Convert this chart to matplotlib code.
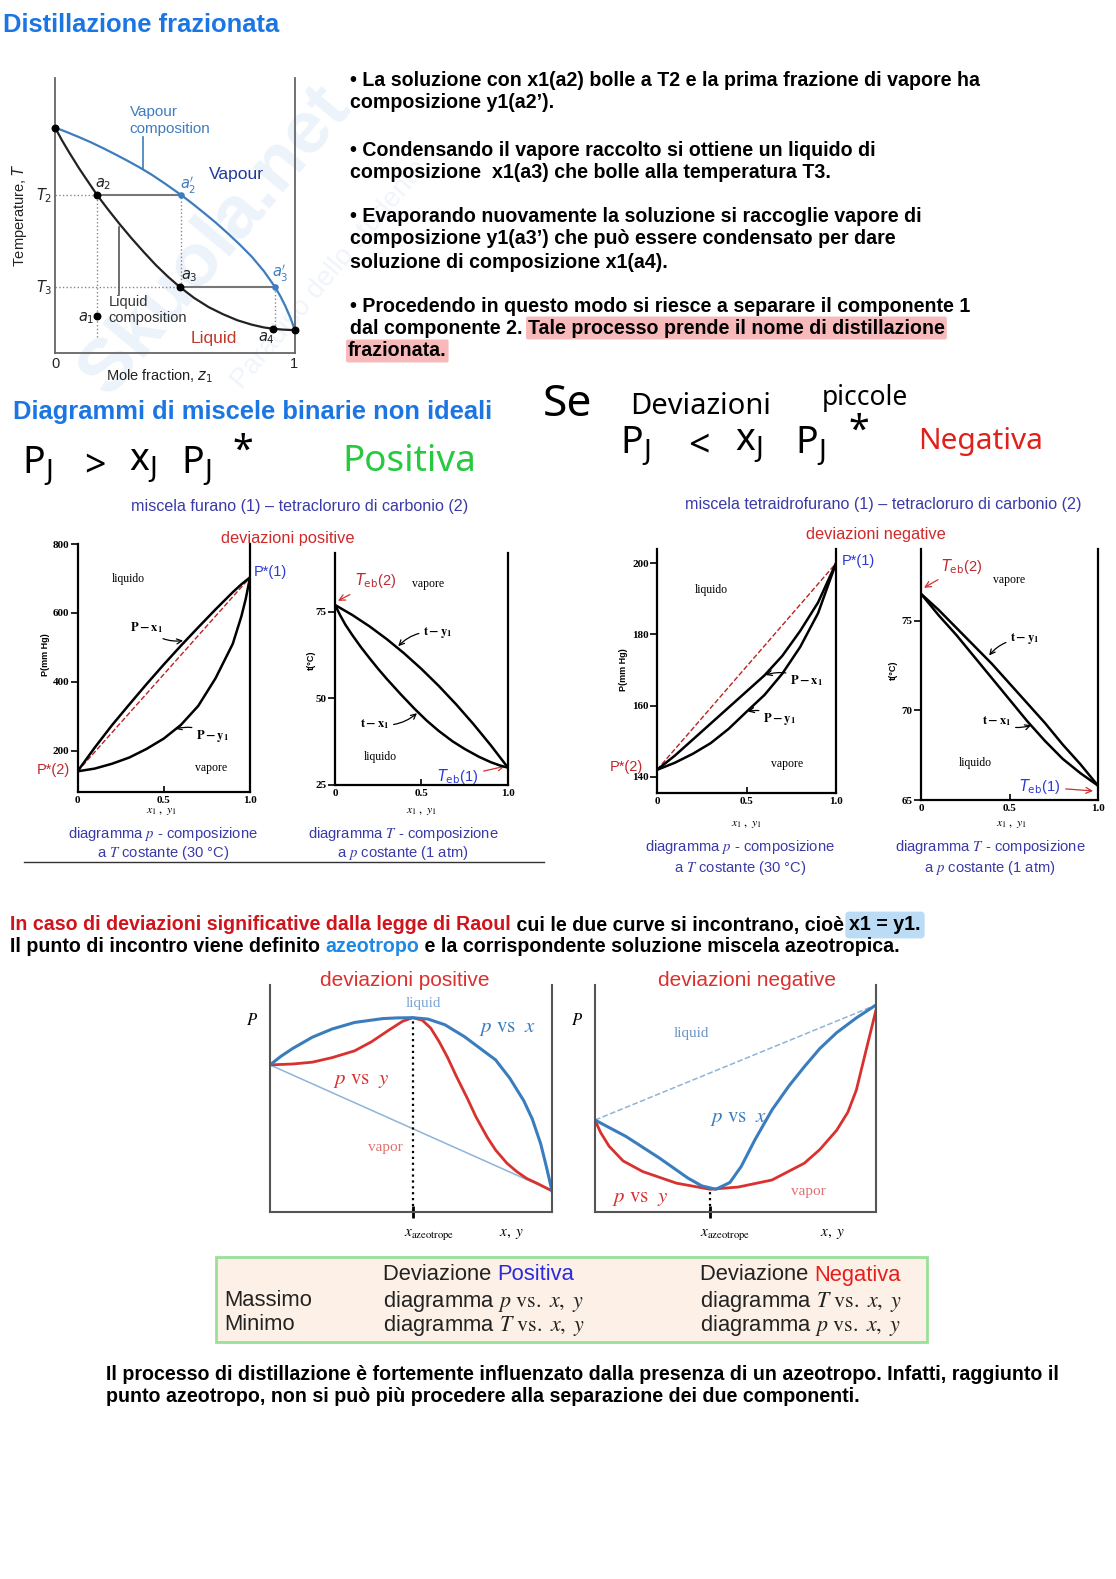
import matplotlib.pyplot as plt
from matplotlib.patches import Rectangle

W, H = 1116, 1579
SANS = 'Liberation Sans'
SERIF = 'Liberation Serif'
HAND = 'Noto Sans'

# ---------------- data ----------------
# distillazione frazionata: composition z1 vs temperature (0..1 scale)
liq_z = [0, 0.03, 0.06, 0.1, 0.14, 0.175, 0.22, 0.27, 0.32, 0.37, 0.42, 0.47, 0.52,
         0.58, 0.64, 0.7, 0.76, 0.82, 0.87, 0.91, 0.95, 1.0]
liq_T = [0.82, 0.772, 0.728, 0.672, 0.62, 0.575, 0.523, 0.468, 0.416, 0.367, 0.32, 0.278, 0.24,
         0.2, 0.167, 0.141, 0.119, 0.103, 0.093, 0.088, 0.085, 0.083]
vap_z = [0, 0.05, 0.1, 0.15, 0.2, 0.25, 0.3, 0.35, 0.4, 0.46, 0.525, 0.57, 0.62, 0.67,
         0.72, 0.77, 0.82, 0.87, 0.917, 0.94, 0.96, 0.98, 1.0]
vap_T = [0.82, 0.803, 0.785, 0.766, 0.745, 0.723, 0.70, 0.676, 0.65, 0.615, 0.575, 0.545, 0.51, 0.474,
         0.435, 0.394, 0.35, 0.298, 0.24, 0.205, 0.17, 0.13, 0.083]
step_z = [0.175, 0.525, 0.52, 0.917, 0.91]      # a2, a2', a3, a3', a4
T2, T3 = 0.575, 0.24
a1_T = 0.135

# furano (1) - CCl4 (2): deviazioni positive
fur_x = [0, 0.1, 0.2, 0.3, 0.4, 0.5, 0.6, 0.7, 0.8, 0.9, 0.95, 0.975, 1.0]
fur_Px = [140, 209, 274, 334, 393, 450, 505, 558, 610, 660, 683, 693, 703]
fur_Py = [140, 148, 162, 180, 205, 235, 275, 330, 410, 510, 590, 640, 703]
fur_tx = [0, 0.03, 0.06, 0.1, 0.15, 0.2, 0.25, 0.3, 0.38, 0.46, 0.53, 0.6, 0.68, 0.75, 0.83, 0.9, 0.95, 1.0]
fur_t_liq = [77, 74, 71.3, 68.3, 64.8, 61.6, 58.5, 55.6, 51.2, 47, 43.6, 40.6, 37.6, 35.4, 33.2, 31.6, 30.7, 30]
fur_ty = [0, 0.1, 0.2, 0.3, 0.4, 0.5, 0.6, 0.7, 0.8, 0.9, 1.0]
fur_t_vap = [77, 74.1, 70.8, 67.1, 63, 58.5, 53.6, 48.3, 42.6, 36.5, 30]

# tetraidrofurano (1) - CCl4 (2): deviazioni negative
thf_x = [0, 0.1, 0.2, 0.3, 0.4, 0.5, 0.6, 0.7, 0.8, 0.9, 1.0]
thf_Px = [142, 146, 150.5, 155, 159.5, 164, 168.5, 174, 181, 189, 200]
thf_Py = [142, 144, 146.5, 149.5, 153.5, 158.3, 163, 169, 176.5, 186, 200]
thf_t_liq = [76.5, 75.3, 74.2, 73.0, 71.8, 70.6, 69.4, 68.3, 67.3, 66.5, 65.8]
thf_t_vap = [76.5, 75.6, 74.6, 73.6, 72.6, 71.5, 70.4, 69.3, 68.1, 67.0, 65.8]

# azeotropi (schematic, p on a 0..1 scale)
azp_xl = [0, 0.04, 0.08, 0.15, 0.22, 0.3, 0.4, 0.45, 0.506, 0.56, 0.62, 0.69, 0.8, 0.85,
          0.9, 0.93, 0.96, 0.98, 1.0]
azp_pl = [0.648, 0.687, 0.72, 0.77, 0.806, 0.835, 0.852, 0.855, 0.856, 0.85, 0.825, 0.772, 0.67, 0.59,
          0.49, 0.41, 0.30, 0.20, 0.093]
azp_xv = [0, 0.08, 0.15, 0.22, 0.3, 0.36, 0.42, 0.47, 0.506, 0.54, 0.57, 0.6, 0.63, 0.66,
          0.7, 0.73, 0.77, 0.8, 0.84, 0.875, 0.91, 0.946, 1.0]
azp_pv = [0.648, 0.652, 0.66, 0.68, 0.71, 0.75, 0.80, 0.84, 0.856, 0.845, 0.81, 0.75, 0.68, 0.60,
          0.50, 0.42, 0.33, 0.273, 0.215, 0.178, 0.148, 0.127, 0.093]
azp_xaz = 0.506
azn_xl = [0, 0.11, 0.23, 0.33, 0.38, 0.43, 0.48, 0.52, 0.57, 0.63, 0.69, 0.745, 0.8, 0.86, 0.93, 1.0]
azn_pl = [0.405, 0.333, 0.237, 0.15, 0.115, 0.10, 0.13, 0.20, 0.32, 0.45, 0.555, 0.64, 0.72, 0.79, 0.855, 0.912]
azn_xv = [0, 0.02, 0.05, 0.1, 0.17, 0.29, 0.41, 0.51, 0.63, 0.745, 0.8, 0.86, 0.9, 0.93, 0.965, 1.0]
azn_pv = [0.405, 0.35, 0.29, 0.225, 0.178, 0.127, 0.10, 0.11, 0.141, 0.215, 0.275, 0.36, 0.44, 0.537, 0.714, 0.89]
azn_xaz = 0.41

# tabella
tab_rows = ['Massimo', 'Minimo']
tab_pos = [r'diagramma $p\ \mathrm{vs.}\ x,\ y$', r'diagramma $T\ \mathrm{vs.}\ x,\ y$']
tab_neg = [r'diagramma $T\ \mathrm{vs.}\ x,\ y$', r'diagramma $p\ \mathrm{vs.}\ x,\ y$']

bullets = [
    ['• La soluzione con x1(a2) bolle a T2 e la prima frazione di vapore ha',
     'composizione y1(a2’).'],
    ['• Condensando il vapore raccolto si ottiene un liquido di',
     'composizione  x1(a3) che bolle alla temperatura T3.'],
    ['• Evaporando nuovamente la soluzione si raccoglie vapore di',
     'composizione y1(a3’) che può essere condensato per dare',
     'soluzione di composizione x1(a4).'],
]

# ---------------- figure ----------------
fig = plt.figure(figsize=(W / 100, H / 100), dpi=100)
bg = fig.add_axes([0, 0, 1, 1])
bg.set_xlim(0, W)
bg.set_ylim(H, 0)
bg.axis('off')


def box(x0, y0, x1, y1):
    return [x0 / W, 1 - y1 / H, (x1 - x0) / W, (y1 - y0) / H]


def txt(x, y, s, size, color='black', family=SANS, weight='normal', ha='left', **kw):
    return bg.text(x, y, s, fontsize=size, color=color, family=family,
                   weight=weight, ha=ha, va='center', **kw)


def chain(x, y, parts, size, family=SANS, weight='bold', **kw):
    prev = None
    for part in parts:
        s, c = part[0], part[1]
        if prev is None:
            prev = bg.text(x, y, s, color=c, fontsize=size, family=family,
                           weight=weight, ha='left', va='center', **kw)
        else:
            prev = bg.annotate(s, xy=(1, 0), xycoords=prev, color=c, fontsize=size,
                               family=family, weight=weight, ha='left', va='bottom', **kw)
        if len(part) > 2:
            prev.set_bbox(part[2])
    return prev


# faint watermark
txt(215, 240, 'Skuola.net', 54, '#edf3fa', weight='bold', ha='center', rotation=50, zorder=-5)
txt(330, 275, 'Paradiso dello studente', 20, '#f0f5fb', ha='center', rotation=50, zorder=-5)

BODY = 14.1
# ---- titolo + diagramma distillazione ----
txt(3, 25, 'Distillazione frazionata', 18.4, '#1b76e4', weight='bold')

ax = fig.add_axes(box(55, 78, 295, 353))
ax.set_facecolor('none')
ax.set_xlim(0, 1)
ax.set_ylim(0, 1)
ax.set_xticks([])
ax.set_yticks([])
ax.spines['top'].set_visible(False)
for s in ('left', 'right', 'bottom'):
    ax.spines[s].set_color('#666')
    ax.spines[s].set_linewidth(1.3)
a2, a2p, a3, a3p, a4 = step_z
a4_T = liq_T[liq_z.index(a4)]
ax.plot([0, a2], [T2, T2], ls=':', color='#888', lw=1)
ax.plot([0, a3], [T3, T3], ls=':', color='#888', lw=1)
ax.plot([a2, a2], [0.06, T2], ls=':', color='#888', lw=1)
ax.plot([a2p, a2p], [T3, T2], ls=':', color='#888', lw=1)
ax.plot([a3p, a3p], [a4_T, T3], ls=':', color='#888', lw=1)
ax.plot([a2, a2p], [T2, T2], color='#777', lw=1.5)
ax.plot([a3, a3p], [T3, T3], color='#777', lw=1.5)
ax.plot(liq_z, liq_T, color='#222', lw=1.6)
ax.plot(vap_z, vap_T, color='#3d7dbf', lw=1.6)
ax.plot([0.367, 0.367], [0.67, 0.785], color='#3d7dbf', lw=1.2)
ax.plot([0.267, 0.267], [0.46, 0.21], color='#555', lw=1.2)
ax.scatter([liq_z[0], a2, a3, a4, liq_z[-1], a2], [liq_T[0], T2, T3, a4_T, liq_T[-1], a1_T],
           color='black', s=22, zorder=5, clip_on=False)
ax.scatter([a2p, a3p], [T2, T3], color='#3d7dbf', s=14, zorder=5)

txt(130, 112, 'Vapour', 11, '#3e7cc0')
txt(129, 129, 'composition', 11, '#3e7cc0')
txt(209, 175, 'Vapour', 12.5, '#1f3a9c')
txt(109, 302, 'Liquid', 10.5, '#333')
txt(108, 318, 'composition', 10.5, '#333')
txt(191, 338, 'Liquid', 12.5, '#c0392b')
txt(95, 184, r'$a_2$', 10.5, '#222')
txt(180, 185, r"$a_2'$", 10.5, '#3e7cc0')
txt(181, 276, r'$a_3$', 10.5, '#222')
txt(272, 273, r"$a_3'$", 10.5, '#3e7cc0')
txt(258, 338, r'$a_4$', 10.5, '#222')
txt(78, 318, r'$a_1$', 10.5, '#222')
txt(44, 196, r'$T_2$', 10.5, '#222', ha='center')
txt(44, 288, r'$T_3$', 10.5, '#222', ha='center')
txt(55, 364, '0', 10.5, '#222', ha='center')
txt(294, 364, '1', 10.5, '#222', ha='center')
txt(160, 376, r'Mole fraction, $z_1$', 10.5, '#222', ha='center')
txt(20, 215, r'Temperature, $T$', 10.5, '#222', ha='center', rotation=90)

# ---- testo puntato ----
ys = [81, 103, 150, 172, 217, 239, 262]
lines = [l for b in bullets for l in b]
for y, l in zip(ys, lines):
    txt(350, y, l, BODY, weight='bold')
txt(350, 306, '• Procedendo in questo modo si riesce a separare il componente 1', BODY, weight='bold')
hl = dict(boxstyle='round,pad=0.1', fc='#f7b9b9', ec='none')
chain(350, 328, [('dal componente 2. ', 'black'),
                 ('Tale processo prende il nome di distillazione', 'black', hl)], BODY)
chain(348, 351, [('frazionata.', 'black', hl)], BODY)

# ---- miscele non ideali ----
txt(13, 412, 'Diagrammi di miscele binarie non ideali', 18.4, '#1b76e4', weight='bold')
PJ = r'P$_\mathsf{J}$'
for s, x in [(PJ, 22), ('>', 84), (r'x$_\mathsf{J}$', 129), (PJ, 181)]:
    txt(x, 466, s, 27, family=HAND)
txt(232, 452, '*', 27, family=HAND)
txt(342, 462, 'Positiva', 26.5, '#27c93f', family=HAND)
txt(543, 405, 'Se', 32, family=HAND)
txt(630, 407, 'Deviazioni', 21, family=HAND)
txt(822, 398, 'piccole', 19, family=HAND)
for s, x in [(PJ, 620), ('<', 688), (r'x$_\mathsf{J}$', 735), (PJ, 795)]:
    txt(x, 446, s, 27, family=HAND)
txt(848, 432, '*', 27, family=HAND)
txt(918, 441, 'Negativa', 21.5, '#e0201b', family=HAND)

CAP = '#3a3aa8'
txt(300, 506, 'miscela furano (1) – tetracloruro di carbonio (2)', 11.6, CAP, ha='center')
txt(288, 538, 'deviazioni positive', 11.8, '#d02a2a', ha='center')
txt(883, 504, 'miscela tetraidrofurano (1) – tetracloruro di carbonio (2)', 11.6, CAP, ha='center')
txt(876, 535, 'deviazioni negative', 11.8, '#d02a2a', ha='center')


def panel(rect, ylim, yticks):
    a = fig.add_axes(box(*rect))
    a.set_facecolor('none')
    a.set_xlim(0, 1)
    a.set_ylim(*ylim)
    a.spines['top'].set_visible(False)
    for s in ('left', 'right', 'bottom'):
        a.spines[s].set_linewidth(1.6)
    a.set_xticks([0, 0.5, 1.0], ['0', '0.5', '1.0'])
    a.set_yticks(yticks, [str(v) for v in yticks])
    a.tick_params(axis='x', direction='in', length=4, width=1.2, labelsize=8, pad=3)
    a.tick_params(axis='y', direction='out', length=5, width=1.2, labelsize=8, pad=1)
    for lab in a.get_xticklabels() + a.get_yticklabels():
        lab.set_fontfamily(SERIF)
        lab.set_fontweight('bold')
    return a


def pointer(a, s, xt, yt, xy, ha='left'):
    bg.annotate(s, xy=xy, xycoords=a.transData, xytext=(xt, yt), textcoords='data',
                fontsize=9, ha=ha, va='center', math_fontfamily='stix',
                arrowprops=dict(arrowstyle='->', lw=0.9, color='black',
                                shrinkA=1, shrinkB=1, connectionstyle='arc3,rad=0.25'))


def red_arrow(a, s, xt, yt, xy, color):
    bg.annotate(s, xy=xy, xycoords=a.transData, xytext=(xt, yt), textcoords='data',
                fontsize=10.5, color=color, ha='left', va='center', family=SANS,
                arrowprops=dict(arrowstyle='->', lw=0.9, color='#d03030', shrinkA=2, shrinkB=1))


CAPS = 10.6
# positive p
ap = panel((77.5, 544, 250, 792), (80, 800), [200, 400, 600, 800])
ap.plot([fur_x[0], fur_x[-1]], [fur_Px[0], fur_Px[-1]], ls='--', color='#b22', lw=1)
ap.plot(fur_x, fur_Px, color='black', lw=1.8)
ap.plot(fur_x, fur_Py, color='black', lw=1.8)
txt(128, 579, 'liquido', 8.5, family=SERIF, ha='center')
txt(211, 768, 'vapore', 8.5, family=SERIF, ha='center')
pointer(ap, r'$\mathbf{P - x_1}$', 130, 628, (0.62, 520))
pointer(ap, r'$\mathbf{P - y_1}$', 196, 736, (0.56, 262))
txt(254, 572, 'P*(1)', 10.5, '#2b3bd6')
txt(37, 770, 'P*(2)', 10.5, '#c0282d')
txt(45, 655, 'P(mm Hg)', 6.5, family=SANS, weight='bold', ha='center', rotation=90)
txt(161, 811, r'$x_1\ ,\ y_1$', 8.5, math_fontfamily='stix', ha='center')
txt(163, 834, r'diagramma $p$ - composizione', CAPS, CAP, ha='center', math_fontfamily='stix')
txt(163, 853, r'a $T$ costante (30 °C)', CAPS, CAP, ha='center', math_fontfamily='stix')

# positive T
at = panel((335, 553, 508, 785), (25, 92), [25, 50, 75])
at.plot(fur_tx, fur_t_liq, color='black', lw=1.8)
at.plot(fur_ty, fur_t_vap, color='black', lw=1.8)
txt(428, 584, 'vapore', 8.5, family=SERIF, ha='center')
txt(380, 757, 'liquido', 8.5, family=SERIF, ha='center')
pointer(at, r'$\mathbf{t - y_1}$', 423, 632, (0.36, 64.8))
pointer(at, r'$\mathbf{t - x_1}$', 360, 724, (0.48, 46))
red_arrow(at, r'$T_{\rm eb}$(2)', 355, 581, (0.01, 78), '#c0282d')
red_arrow(at, r'$T_{\rm eb}$(1)', 437, 777, (0.99, 30.5), '#2b3bd6')
txt(311, 660, 't(°C)', 6.5, family=SANS, weight='bold', ha='center', rotation=90)
txt(421, 811, r'$x_1\ ,\ y_1$', 8.5, math_fontfamily='stix', ha='center')
txt(403, 834, r'diagramma $T$ - composizione', CAPS, CAP, ha='center', math_fontfamily='stix')
txt(403, 853, r'a $p$ costante (1 atm)', CAPS, CAP, ha='center', math_fontfamily='stix')
bg.axhline(862, xmin=24 / W, xmax=544 / W, color='#333', lw=1)

# negative p
an = panel((657, 549, 836, 793), (135.5, 204), [140, 160, 180, 200])
an.plot([thf_x[0], thf_x[-1]], [thf_Px[0], thf_Px[-1]], ls='--', color='#b22', lw=1)
an.plot(thf_x, thf_Px, color='black', lw=1.8)
an.plot(thf_x, thf_Py, color='black', lw=1.8)
txt(711, 590, 'liquido', 8.5, family=SERIF, ha='center')
txt(787, 764, 'vapore', 8.5, family=SERIF, ha='center')
pointer(an, r'$\mathbf{P - x_1}$', 790, 681, (0.6, 168.5))
pointer(an, r'$\mathbf{P - y_1}$', 763, 719, (0.5, 158.3))
txt(842, 561, 'P*(1)', 10.5, '#2b3bd6')
txt(610, 767, 'P*(2)', 10.5, '#c0282d')
txt(624, 670, 'P(mm Hg)', 6.5, family=SANS, weight='bold', ha='center', rotation=90)
txt(746, 824, r'$x_1\ ,\ y_1$', 8.5, math_fontfamily='stix', ha='center')
txt(740, 847, r'diagramma $p$ - composizione', CAPS, CAP, ha='center', math_fontfamily='stix')
txt(740, 868, r'a $T$ costante (30 °C)', CAPS, CAP, ha='center', math_fontfamily='stix')

# negative T
ant = panel((921, 549, 1098, 800), (65, 79), [65, 70, 75])
ant.plot(thf_x, thf_t_liq, color='black', lw=1.8)
ant.plot(thf_x, thf_t_vap, color='black', lw=1.8)
txt(1009, 580, 'vapore', 8.5, family=SERIF, ha='center')
txt(975, 763, 'liquido', 8.5, family=SERIF, ha='center')
pointer(ant, r'$\mathbf{t - y_1}$', 1010, 639, (0.38, 73.0))
pointer(ant, r'$\mathbf{t - x_1}$', 982, 721, (0.63, 69.2))
red_arrow(ant, r'$T_{\rm eb}$(2)', 941, 566, (0.01, 76.8), '#c0282d')
red_arrow(ant, r'$T_{\rm eb}$(1)', 1019, 787, (0.98, 65.5), '#2b3bd6')
txt(893, 670, 't(°C)', 6.5, family=SANS, weight='bold', ha='center', rotation=90)
txt(1011, 824, r'$x_1\ ,\ y_1$', 8.5, math_fontfamily='stix', ha='center')
txt(990, 847, r'diagramma $T$ - composizione', CAPS, CAP, ha='center', math_fontfamily='stix')
txt(990, 868, r'a $p$ costante (1 atm)', CAPS, CAP, ha='center', math_fontfamily='stix')

# ---- azeotropo ----
chain(10, 925, [('In caso di deviazioni significative dalla legge di Raoul', '#d0141c'),
                (' cui le due curve si incontrano, cioè ', 'black'),
                ('x1 = y1.', 'black', dict(boxstyle='round,pad=0.2', fc='#bcdcf5', ec='none'))], BODY)
chain(10, 947, [('Il punto di incontro viene definito ', 'black'),
                ('azeotropo', '#1e88e5'),
                (' e la corrispondente soluzione miscela azeotropica.', 'black')], BODY)

BLUE_AZ = '#3a7dbf'
RED_AZ = '#d9312e'


def azeo(rect, xl, pl, xv, pv, xaz, paz, dashed):
    a = fig.add_axes(box(*rect))
    a.set_facecolor('none')
    a.set_xlim(0, 1)
    a.set_ylim(0, 1)
    a.spines['top'].set_visible(False)
    for s in ('left', 'right', 'bottom'):
        a.spines[s].set_color('#555')
        a.spines[s].set_linewidth(1.5)
    a.set_yticks([])
    a.set_xticks([xaz], [''])
    a.tick_params(axis='x', direction='inout', length=9, width=2, color='black')
    a.plot([xl[0], xl[-1]], [pl[0], pl[-1]], ls='--' if dashed else '-',
           color='#8fb3d9', lw=1.1)
    a.plot([xaz, xaz], [0, paz], ls=':', color='black', lw=1.6)
    a.plot(xv, pv, color=RED_AZ, lw=2)
    a.plot(xl, pl, color=BLUE_AZ, lw=2.2)
    return a


azeo((270, 985, 552, 1212), azp_xl, azp_pl, azp_xv, azp_pv, azp_xaz, max(azp_pl), False)
azeo((595, 985, 876, 1212), azn_xl, azn_pl, azn_xv, azn_pv, azn_xaz, min(azn_pl), True)

DY = 8
txt(405, 972 + DY, 'deviazioni positive', 15, RED_AZ, ha='center')
txt(747, 972 + DY, 'deviazioni negative', 15, RED_AZ, ha='center')
for xp in (252, 577):
    txt(xp, 1012 + DY, r'$P$', 12, math_fontfamily='stix', ha='center')
txt(423, 995 + DY, 'liquid', 11, '#7aa6d6', family=SERIF, ha='center')
txt(691, 1025 + DY, 'liquid', 11, '#6b93c8', family=SERIF, ha='center')
txt(479, 1021 + DY, r'$p\ \mathrm{vs}\ \ x$', 15, BLUE_AZ, math_fontfamily='stix')
txt(710, 1110 + DY, r'$p\ \mathrm{vs}\ \ x$', 15, BLUE_AZ, math_fontfamily='stix')
txt(333, 1072 + DY, r'$p\ \mathrm{vs}\ \ y$', 15, RED_AZ, math_fontfamily='stix')
txt(612, 1191 + DY, r'$p\ \mathrm{vs}\ \ y$', 15, RED_AZ, math_fontfamily='stix')
txt(385, 1140 + DY, 'vapor', 11, '#e07070', family=SERIF, ha='center')
txt(808, 1183 + DY, 'vapor', 11, '#e07070', family=SERIF, ha='center')
txt(404, 1226 + DY, r'$x_{\mathrm{azeotrope}}$', 11, math_fontfamily='stix')
txt(700, 1226 + DY, r'$x_{\mathrm{azeotrope}}$', 11, math_fontfamily='stix')
txt(512, 1226 + DY, r'$x,\ y$', 11, math_fontfamily='stix', ha='center')
txt(833, 1226 + DY, r'$x,\ y$', 11, math_fontfamily='stix', ha='center')

# ---- tabella ----
bg.add_patch(Rectangle((216, 1257), 711, 85, fc='#fdf0e6', ec='#98e098', lw=2))
TS = 15.8
chain(383, 1275, [('Deviazione ', '#222'), ('Positiva', '#2b2bdd')], TS, weight='normal')
chain(700, 1275, [('Deviazione ', '#222'), ('Negativa', '#e81c1c')], TS, weight='normal')
for i, (r, p, n) in enumerate(zip(tab_rows, tab_pos, tab_neg)):
    y = 1301 + 24 * i
    txt(224, y, r, TS, '#222')
    txt(383, y, p, TS, '#222', math_fontfamily='stix')
    txt(700, y, n, TS, '#222', math_fontfamily='stix')

txt(106, 1375, 'Il processo di distillazione è fortemente influenzato dalla presenza di un azeotropo. '
               'Infatti, raggiunto il', BODY, weight='bold')
txt(106, 1397, 'punto azeotropo, non si può più procedere alla separazione dei due componenti.',
    BODY, weight='bold')

fig.savefig('out.png', dpi=100)
